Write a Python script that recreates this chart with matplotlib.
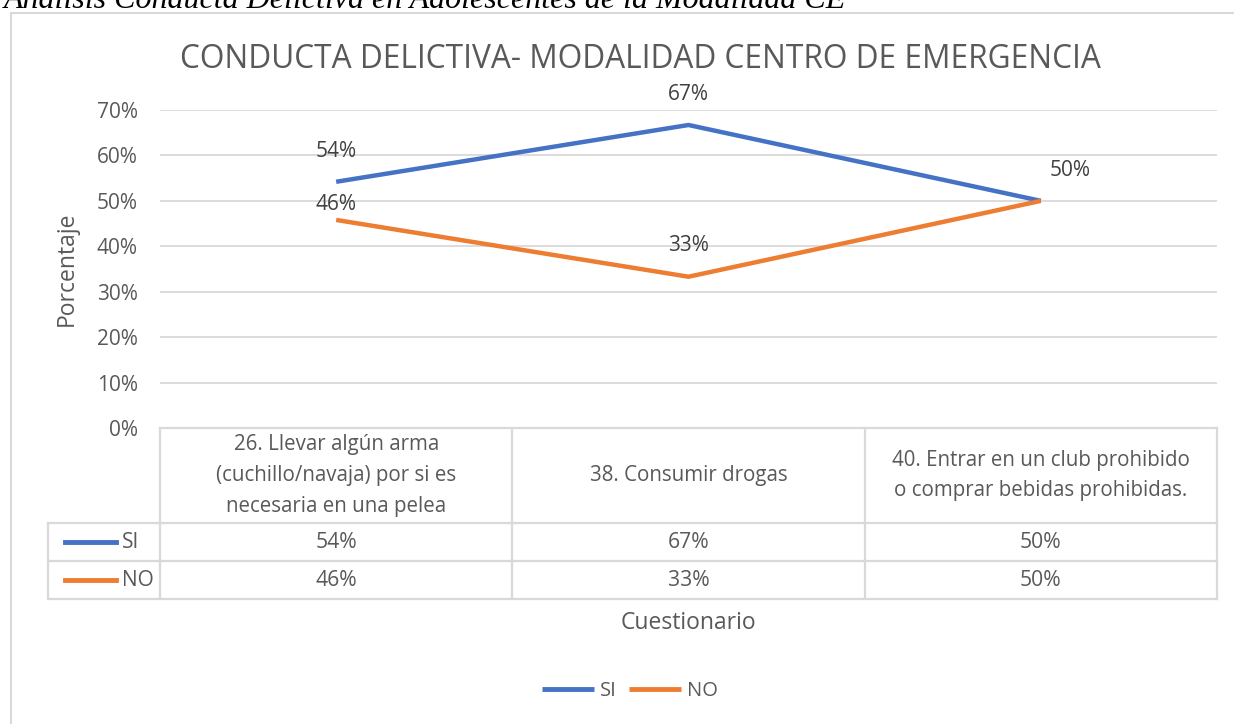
import matplotlib.pyplot as plt
from matplotlib.transforms import Affine2D, blended_transform_factory
from matplotlib.lines import Line2D

# data
categories = [
    "26. Llevar algún arma\n(cuchillo/navaja) por si es\nnecesaria en una pelea",
    "38. Consumir drogas",
    "40. Entrar en un club prohibido\no comprar bebidas prohibidas.",
]
series_names = ["SI", "NO"]
si_values = [54.2, 66.7, 50.0]
no_values = [45.8, 33.3, 50.0]
y_ticks = [0, 10, 20, 30, 40, 50, 60, 70]

title = "CONDUCTA DELICTIVA- MODALIDAD CENTRO DE EMERGENCIA"
caption = "Análisis Conducta Delictiva en Adolescentes de la Modalidad CE"

BLUE = "#4472C4"
ORANGE = "#ED7D31"
GRID = "#D9D9D9"
TXT = "#595959"
LBL = "#404040"
FONT = "Open Sans"

W, H = 1234, 724
fig = plt.figure(figsize=(W / 100, H / 100), dpi=100)
# pixel transform, origin top-left
px = Affine2D().scale(1 / W, -1 / H).translate(0, 1) + fig.transFigure

ax = fig.add_axes([160 / W, 1 - 428 / H, (1217 - 160) / W, (428 - 110) / H])
ax.set_xlim(-0.5, len(categories) - 0.5)
ax.set_ylim(0, 70)
for s in ax.spines.values():
    s.set_visible(False)
ax.set_yticks(y_ticks)
ax.set_yticklabels([f"{t}%" for t in y_ticks], fontsize=15, color=TXT, family=FONT)
ax.tick_params(axis="y", length=0, pad=16)
ax.set_xticks([])
ax.yaxis.grid(True, color=GRID, linewidth=1.3)
ax.set_axisbelow(True)

xs = list(range(len(categories)))
ax.plot(xs, si_values, color=BLUE, linewidth=3.2, solid_capstyle="butt", label="SI", clip_on=False)
ax.plot(xs, no_values, color=ORANGE, linewidth=3.2, solid_capstyle="butt", label="NO", clip_on=False)

# data labels (above the points, a few nudged like in the original)
si_offsets = [(0, 30), (0, 30), (29, 30)]
no_offsets = [(0, 15), (0, 31), None]
for i, (a, b) in enumerate(zip(si_values, no_values)):
    ax.annotate(f"{a:.0f}%", (i, a), xytext=si_offsets[i], textcoords="offset pixels",
                ha="center", va="center", fontsize=15, color=LBL, family=FONT)
    if no_offsets[i] is not None:
        ax.annotate(f"{b:.0f}%", (i, b), xytext=no_offsets[i], textcoords="offset pixels",
                    ha="center", va="center", fontsize=15, color=LBL, family=FONT)

ax.set_ylabel("Porcentaje", fontsize=16.5, color=TXT, family=FONT, labelpad=13)

# title and cut-off caption
fig.text(640 / W, 1 - 59 / H, title, ha="center", va="center",
         fontsize=22.8, color=TXT, family=FONT)
fig.text(4 / W, 1 - 8 / H, caption, ha="left", va="baseline", fontsize=23,
         style="italic", family="Liberation Serif", color="black")

# chart border (left and top visible)
fig.add_artist(Line2D([11, 11], [13, 724], transform=px, color=GRID, linewidth=1.5))
fig.add_artist(Line2D([11, 1234], [13, 13], transform=px, color=GRID, linewidth=1.5))

# data table below the plot
tb = blended_transform_factory(ax.transData, px)
edges = [-0.5 + k for k in range(len(categories) + 1)]
y_top, y_hdr, y_r1, y_r2 = 428, 523, 561, 599
lw = 1.6
for e in edges:
    ax.add_line(Line2D([e, e], [y_top, y_r2], transform=tb, color=GRID, linewidth=lw, clip_on=False))
ax.add_line(Line2D([edges[0], edges[-1]], [y_top, y_top], transform=tb, color=GRID, linewidth=lw, clip_on=False))
for yy in (y_hdr, y_r1, y_r2):
    fig.add_artist(Line2D([48, 1217], [yy, yy], transform=px, color=GRID, linewidth=lw))
fig.add_artist(Line2D([48, 48], [y_hdr, y_r2], transform=px, color=GRID, linewidth=lw))

for i, cat in enumerate(categories):
    ax.text(i, (y_top + y_hdr) / 2, cat, transform=tb, ha="center", va="center",
            fontsize=14.8, color=TXT, family=FONT, linespacing=1.6)
rows = [(y_hdr, y_r1, si_values, BLUE, "SI"), (y_r1, y_r2, no_values, ORANGE, "NO")]
for y0, y1, vals, col, name in rows:
    yc = (y0 + y1) / 2
    for i, v in enumerate(vals):
        ax.text(i, yc, f"{v:.0f}%", transform=tb, ha="center", va="center",
                fontsize=15.2, color=TXT, family=FONT)
    fig.add_artist(Line2D([65, 116], [yc, yc], transform=px, color=col, linewidth=3.5))
    fig.text(122 / W, 1 - yc / H, name, ha="left", va="center", fontsize=15, color=TXT, family=FONT)

fig.text(688 / W, 1 - 623 / H, "Cuestionario", ha="center", va="center",
         fontsize=16.5, color=TXT, family=FONT)

leg = fig.legend(loc="center", bbox_to_anchor=(630 / W, 1 - 691 / H), ncol=2, frameon=False,
                 prop={"family": FONT, "size": 14.5}, handlelength=2.6, columnspacing=0.6,
                 handletextpad=0.3, labelcolor=TXT)
for h in leg.get_lines():
    h.set_linewidth(3.5)

fig.savefig("out.png", dpi=100)
